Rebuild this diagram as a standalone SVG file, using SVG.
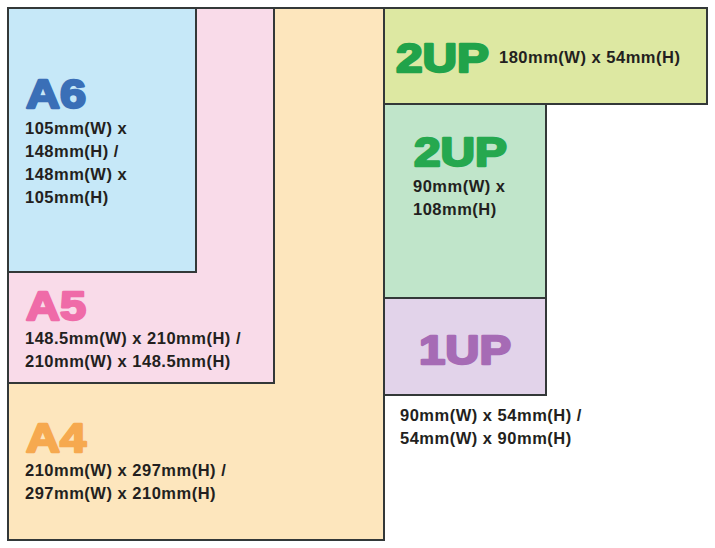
<svg xmlns="http://www.w3.org/2000/svg" width="715" height="548" viewBox="0 0 715 548">
<style>
.box{stroke:#333838;stroke-width:2}
.big{font-family:"Liberation Sans",Arial,sans-serif;font-weight:bold;font-size:41px;stroke-width:2.4;stroke-linejoin:round}
.sm{font-family:"Liberation Sans",Arial,sans-serif;font-weight:bold;font-size:16.5px;letter-spacing:0.5px;fill:#231f20}
</style>
<rect width="715" height="548" fill="#ffffff"/>
<g id="a4">
<rect class="box" x="8" y="8" width="376" height="532" fill="#fde6bd"/>
<text class="big" x="26" y="452" textLength="60" lengthAdjust="spacingAndGlyphs" fill="#f6a94f" stroke="#f6a94f">A4</text>
<text class="sm" x="25" y="476">210mm(W) x 297mm(H) /</text>
<text class="sm" x="25" y="499">297mm(W) x 210mm(H)</text>
</g>
<g id="a5">
<rect class="box" x="8" y="8" width="266" height="375" fill="#f9dbe9"/>
<text class="big" x="26" y="320" textLength="60" lengthAdjust="spacingAndGlyphs" fill="#ef6ba8" stroke="#ef6ba8">A5</text>
<text class="sm" x="25" y="344">148.5mm(W) x 210mm(H) /</text>
<text class="sm" x="25" y="367">210mm(W) x 148.5mm(H)</text>
</g>
<g id="a6">
<rect class="box" x="8" y="8" width="188" height="264" fill="#c6e8f8"/>
<text class="big" x="26" y="108" textLength="60" lengthAdjust="spacingAndGlyphs" fill="#3a6fb7" stroke="#3a6fb7">A6</text>
<text class="sm" x="25" y="134">105mm(W) x</text>
<text class="sm" x="25" y="157">148mm(H) /</text>
<text class="sm" x="25" y="180">148mm(W) x</text>
<text class="sm" x="25" y="203">105mm(H)</text>
</g>
<g id="twoup-wide">
<rect class="box" x="384" y="8" width="323" height="96" fill="#dde8a2"/>
<text class="big" x="396" y="72" textLength="93" lengthAdjust="spacingAndGlyphs" fill="#21a34a" stroke="#21a34a" font-size="42">2UP</text>
<text class="sm" x="499" y="63">180mm(W) x 54mm(H)</text>
</g>
<g id="twoup-tall">
<rect class="box" x="384" y="104" width="162" height="194" fill="#c0e5ca"/>
<text class="big" x="414" y="166" textLength="93" lengthAdjust="spacingAndGlyphs" fill="#26a84f" stroke="#26a84f" font-size="42">2UP</text>
<text class="sm" x="413" y="192">90mm(W) x</text>
<text class="sm" x="413" y="215">108mm(H)</text>
</g>
<g id="oneup">
<rect class="box" x="384" y="298" width="162" height="97" fill="#e2d3ea"/>
<text class="big" x="419" y="364" textLength="92" lengthAdjust="spacingAndGlyphs" fill="#a66bb5" stroke="#a66bb5" font-size="42">1UP</text>
<text class="sm" x="400" y="421">90mm(W) x 54mm(H) /</text>
<text class="sm" x="400" y="444">54mm(W) x 90mm(H)</text>
</g>
<g id="connectors"/>
</svg>
